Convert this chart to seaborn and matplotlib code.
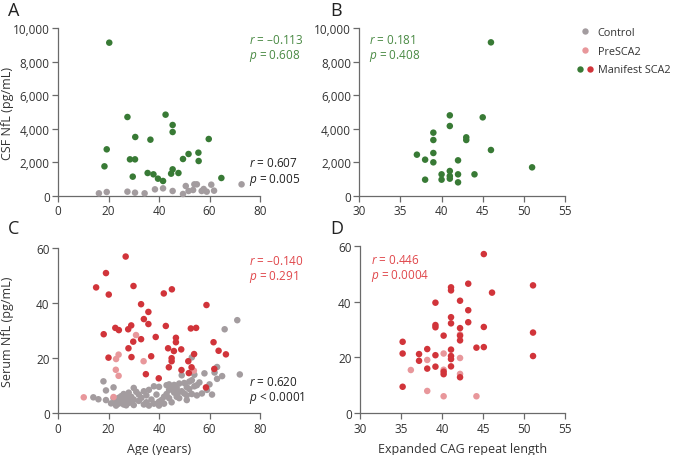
import matplotlib
matplotlib.use("Agg")
import matplotlib.pyplot as plt
from matplotlib.lines import Line2D
from matplotlib.legend_handler import HandlerTuple
from matplotlib.ticker import FuncFormatter
import seaborn as sns
import pandas as pd

# ---------------- data ----------------
# Panel A: CSF NfL vs age
a_manifest_age = [20.3, 27.5, 42.6, 45.4, 45.4, 30.6, 36.6, 59.7, 19.3, 18.4, 28.5, 30.5, 29.6,
                  35.5, 37.8, 39.6, 41.6, 44.8, 45.4, 47.7, 49.5, 51.7, 55.6, 55.7, 64.7]
a_manifest_nfl = [9127, 4702, 4841, 4226, 3809, 3512, 3353, 3393, 2778, 1766, 2182, 2182, 1151,
                  1369, 1290, 1032, 893, 1329, 1587, 1369, 2202, 2500, 2579, 2083, 1071]
a_control_age = [16.2, 19.3, 27.5, 30.5, 34.3, 38.4, 41.6, 45.4, 49.5, 50.6, 51.7, 53.5, 54.0,
                 55.0, 56.9, 57.7, 58.9, 60.7, 61.8, 72.7]
a_control_nfl = [159, 238, 258, 198, 159, 397, 456, 298, 119, 595, 298, 357, 694,
                 694, 298, 417, 258, 674, 317, 694]

# Panel B: CSF NfL vs CAG repeat length (manifest)
b_cag = [46, 45, 41, 41, 39, 39, 37, 39, 38, 39, 42, 46, 51, 38, 40, 40, 41, 41, 41, 42, 42, 44, 43, 43]
b_nfl = [9146, 4682, 4801, 4166, 3770, 3333, 2460, 2559, 2163, 2004, 2123, 2738, 1706, 972,
         1290, 972, 1488, 1190, 1032, 1290, 813, 1290, 3492, 3333]

# Panel C: serum NfL vs age
c_manifest_age = [26.8, 19.0, 15.1, 29.9, 20.1, 41.9, 45.1, 32.9, 35.8, 34.0, 35.8, 42.7, 58.8,
                  29.0, 22.7, 24.1, 27.8, 18.1, 52.6, 54.7, 32.9, 29.8, 38.7, 46.7, 46.7, 27.9,
                  43.6, 45.9, 48.8, 61.6, 63.6, 45.0, 45.0, 36.9, 29.1, 20.0, 43.9, 51.6, 53.9,
                  66.5, 58.6, 61.9, 39.9, 34.8, 51.8, 52.9, 48.9]
c_manifest_nfl = [56.9, 50.9, 45.7, 46.2, 43.1, 43.5, 45.0, 39.6, 36.8, 34.2, 32.4, 31.7, 39.3,
                  31.9, 31.0, 30.2, 30.5, 28.7, 30.8, 31.0, 26.9, 26.0, 27.7, 27.4, 25.8, 23.6,
                  23.6, 22.6, 23.2, 25.8, 22.7, 20.0, 18.9, 20.7, 20.4, 20.2, 16.7, 18.9, 21.5,
                  21.4, 9.4, 16.1, 12.7, 14.2, 14.6, 16.7, 15.7]
c_pre_age = [10.2, 22.0, 22.9, 24.0, 23.0, 24.0, 30.9, 33.9, 53.8]
c_pre_nfl = [5.8, 5.9, 15.8, 13.6, 19.7, 21.3, 28.4, 18.9, 15.5]
c_control_age = [14, 16, 18, 19, 19, 21, 22, 22, 23, 23, 24, 24, 25, 25, 26, 26, 26, 27, 27, 27,
                 28, 28, 28, 29, 29, 30, 30, 30, 31, 32, 33, 34, 34, 35, 35, 36, 37, 38, 38, 39,
                 40, 40, 40, 41, 42, 42, 43, 43, 44, 44, 45, 45, 46, 47, 47, 48, 48, 49, 49, 50,
                 50, 51, 51, 52, 52, 53, 53, 53, 54, 54, 55, 55, 56, 57, 58, 59, 60, 61, 62, 63,
                 63, 65, 66, 71, 72, 36, 32, 46, 48, 51, 44]
c_control_nfl = [5.8, 5.1, 11.6, 8.3, 4.8, 3.6, 9.4, 5.5, 4.2, 2.8, 5.6, 3.5, 6.2, 4.0, 5.0, 3.2,
                 7.0, 4.5, 2.9, 6.3, 5.2, 3.8, 7.5, 4.0, 6.0, 9.2, 3.0, 5.0, 7.8, 4.5, 5.6, 8.0,
                 3.2, 6.5, 4.0, 8.5, 5.0, 9.8, 3.5, 6.8, 9.6, 4.2, 2.8, 4.8, 6.0, 3.5, 10.2, 7.0,
                 10.5, 5.5, 8.8, 4.0, 7.5, 6.0, 9.2, 10.8, 5.5, 8.0, 13.8, 11.0, 7.2, 9.5, 6.5,
                 8.8, 11.5, 7.0, 20.3, 12.0, 9.8, 14.0, 6.5, 10.2, 11.2, 7.2, 14.5, 8.5, 10.5,
                 6.8, 14.8, 16.8, 12.5, 13.5, 30.5, 33.8, 14.1, 2.8, 6.8, 10.3, 7.8, 4.8, 8.5]

# Panel D: serum NfL vs CAG repeat length
d_manifest_cag = [45.1, 43.2, 51.1, 41.1, 41.1, 46.1, 39.2, 42.2, 43.2, 41.1, 39.2, 39.2, 41.1,
                  43.2, 45.1, 42.2, 40.2, 42.2, 42.2, 51.1, 35.2, 35.2, 38.2, 41.1, 44.2, 45.1,
                  37.2, 39.2, 41.1, 41.1, 51.1, 37.2, 38.2, 39.2, 41.1, 40.2, 40.2, 42.2, 35.2]
d_manifest_nfl = [57.0, 46.4, 45.8, 45.1, 44.0, 43.2, 39.6, 40.3, 36.9, 34.4, 31.6, 30.8, 32.2,
                  32.6, 30.9, 30.5, 27.8, 27.8, 26.1, 28.9, 25.6, 21.4, 23.0, 22.8, 23.5, 23.7,
                  21.2, 20.8, 20.5, 19.4, 20.5, 18.8, 16.0, 16.7, 16.8, 14.9, 14.0, 12.9, 9.5]
d_pre_cag = [36.2, 38.2, 38.2, 40.2, 40.2, 40.2, 42.2, 42.2, 42.2, 44.2]
d_pre_nfl = [15.5, 19.1, 8.0, 21.4, 15.6, 6.1, 28.2, 19.8, 14.1, 6.1]

groups = ["Control", "PreSCA2", "Manifest SCA2"]
stats_a = [("–0.113", "0.608"), ("0.607", "0.005")]
stats_b = ("0.181", "0.408")
stats_c = [("–0.140", "0.291"), ("0.620", "< 0.0001")]
stats_d = ("0.446", "0.0004")

# ---------------- style ----------------
GREY = "#a39c9f"
PINK = "#e8979b"
GREEN = "#387a35"
RED = "#d1343a"
GREEN_T = "#4a8a44"
RED_T = "#e0474b"
SPINE = "#6a6a6a"

sns.set_theme(style="ticks")
plt.rcParams["font.family"] = ["Open Sans", "DejaVu Sans"]
plt.rcParams["mathtext.fontset"] = "custom"
plt.rcParams["mathtext.it"] = "Open Sans:italic"
plt.rcParams["mathtext.rm"] = "Open Sans"
plt.rcParams["axes.edgecolor"] = SPINE
plt.rcParams["xtick.color"] = SPINE
plt.rcParams["ytick.color"] = SPINE
plt.rcParams["xtick.labelcolor"] = "#333333"
plt.rcParams["ytick.labelcolor"] = "#333333"

fig = plt.figure(figsize=(6.75, 4.56), dpi=100)
W, H = 675, 456

def add_ax(x0, x1, ytop, ybot):
    return fig.add_axes([x0 / W, 1 - ybot / H, (x1 - x0) / W, (ybot - ytop) / H])

axA = add_ax(58, 260, 29, 197)
axB = add_ax(359.3, 565, 29, 197)
axC = add_ax(58, 260, 249, 414.3)
axD = add_ax(360, 565, 246.7, 414.3)

S = 22

def df_of(x, y, grp):
    return pd.DataFrame({"x": x, "y": y, "g": grp})

def scatter(ax, frames, palette):
    df = pd.concat(frames, ignore_index=True)
    sns.scatterplot(data=df, x="x", y="y", hue="g", palette=palette, s=S,
                    linewidth=0, legend=False, ax=ax, clip_on=False, zorder=3)

scatter(axA, [df_of(a_control_age, a_control_nfl, "Control"),
              df_of(a_manifest_age, a_manifest_nfl, "Manifest")],
        {"Control": GREY, "Manifest": GREEN})
scatter(axB, [df_of(b_cag, b_nfl, "Manifest")], {"Manifest": GREEN})
scatter(axC, [df_of(c_control_age, c_control_nfl, "Control"),
              df_of(c_pre_age, c_pre_nfl, "Pre"),
              df_of(c_manifest_age, c_manifest_nfl, "Manifest")],
        {"Control": GREY, "Pre": PINK, "Manifest": RED})
scatter(axD, [df_of(d_pre_cag, d_pre_nfl, "Pre"),
              df_of(d_manifest_cag, d_manifest_nfl, "Manifest")],
        {"Pre": PINK, "Manifest": RED})

comma = FuncFormatter(lambda v, p: f"{int(v):,}")
for ax in (axA, axB):
    ax.set_ylim(0, 10000)
    ax.set_yticks(range(0, 10001, 2000))
    ax.yaxis.set_major_formatter(comma)
for ax in (axC, axD):
    ax.set_ylim(0, 60)
    ax.set_yticks(range(0, 61, 20))
for ax in (axA, axC):
    ax.set_xlim(0, 80)
    ax.set_xticks(range(0, 81, 20))
for ax in (axB, axD):
    ax.set_xlim(30, 55)
    ax.set_xticks(range(30, 56, 5))

for ax in (axA, axB, axC, axD):
    sns.despine(ax=ax)
    ax.spines["left"].set_linewidth(0.9)
    ax.spines["bottom"].set_linewidth(0.9)
    ax.tick_params(length=4, width=0.9, labelsize=8.5, pad=2)
    ax.set_xlabel("")
    ax.set_ylabel("")
    ax.patch.set_alpha(0)

axA.set_ylabel("CSF NfL (pg/mL)", fontsize=9, color="#333333")
axC.set_ylabel("Serum NfL (pg/mL)", fontsize=9, color="#333333")
axA.yaxis.set_label_coords((14 - 58) / 202, 0.5)
axC.yaxis.set_label_coords((14 - 58) / 202, 0.5)
axC.set_xlabel("Age (years)", fontsize=9, color="#333333", labelpad=5)
axD.set_xlabel("Expanded CAG repeat length", fontsize=9, color="#333333", labelpad=5)

def stat(ax, x, ymid, r, p, color):
    ptxt = p if p.startswith("<") else "= " + p
    ax.text(x, ymid, f"$\\mathit{{r}}$ = {r}\n$\\mathit{{p}}$ {ptxt}", color=color,
            fontsize=8.5, va="center", ha="left", linespacing=1.15, clip_on=False)

stat(axA, 75.6, (9167 + 8452) / 2, *stats_a[0], GREEN_T)
stat(axA, 75.6, (1905 + 1012) / 2, *stats_a[1], "#222222")
stat(axB, 31.2, (9167 + 8452) / 2, *stats_b, GREEN_T)
stat(axC, 75.6, (54.8 + 49.9) / 2, *stats_c[0], RED_T)
stat(axC, 75.6, (10.9 + 6.0) / 2, *stats_c[1], "#222222")
stat(axD, 31.4, (54.3 + 49.7) / 2, *stats_d, RED_T)

for lab, xp, yp in [("A", 8, 11), ("B", 330, 11), ("C", 8, 229), ("D", 330, 229)]:
    fig.text(xp / W, 1 - yp / H, lab, fontsize=13, color="#222222", va="center", ha="left")

def mk(c):
    return Line2D([], [], marker="o", linestyle="", markersize=4.6, markerfacecolor=c,
                  markeredgewidth=0)

handles = [mk(GREY), mk(PINK), (mk(GREEN), mk(RED))]
leg = fig.legend(handles, groups, loc="upper left", bbox_to_anchor=(574 / W, 1 - 26 / H),
                 frameon=False, fontsize=7.8, handlelength=1.6, handletextpad=0.4,
                 borderaxespad=0, borderpad=0.2,
                 labelspacing=0.7, handler_map={tuple: HandlerTuple(ndivide=None, pad=0.2)})
for t in leg.get_texts():
    t.set_color("#333333")

fig.savefig("out.png", dpi=100)
